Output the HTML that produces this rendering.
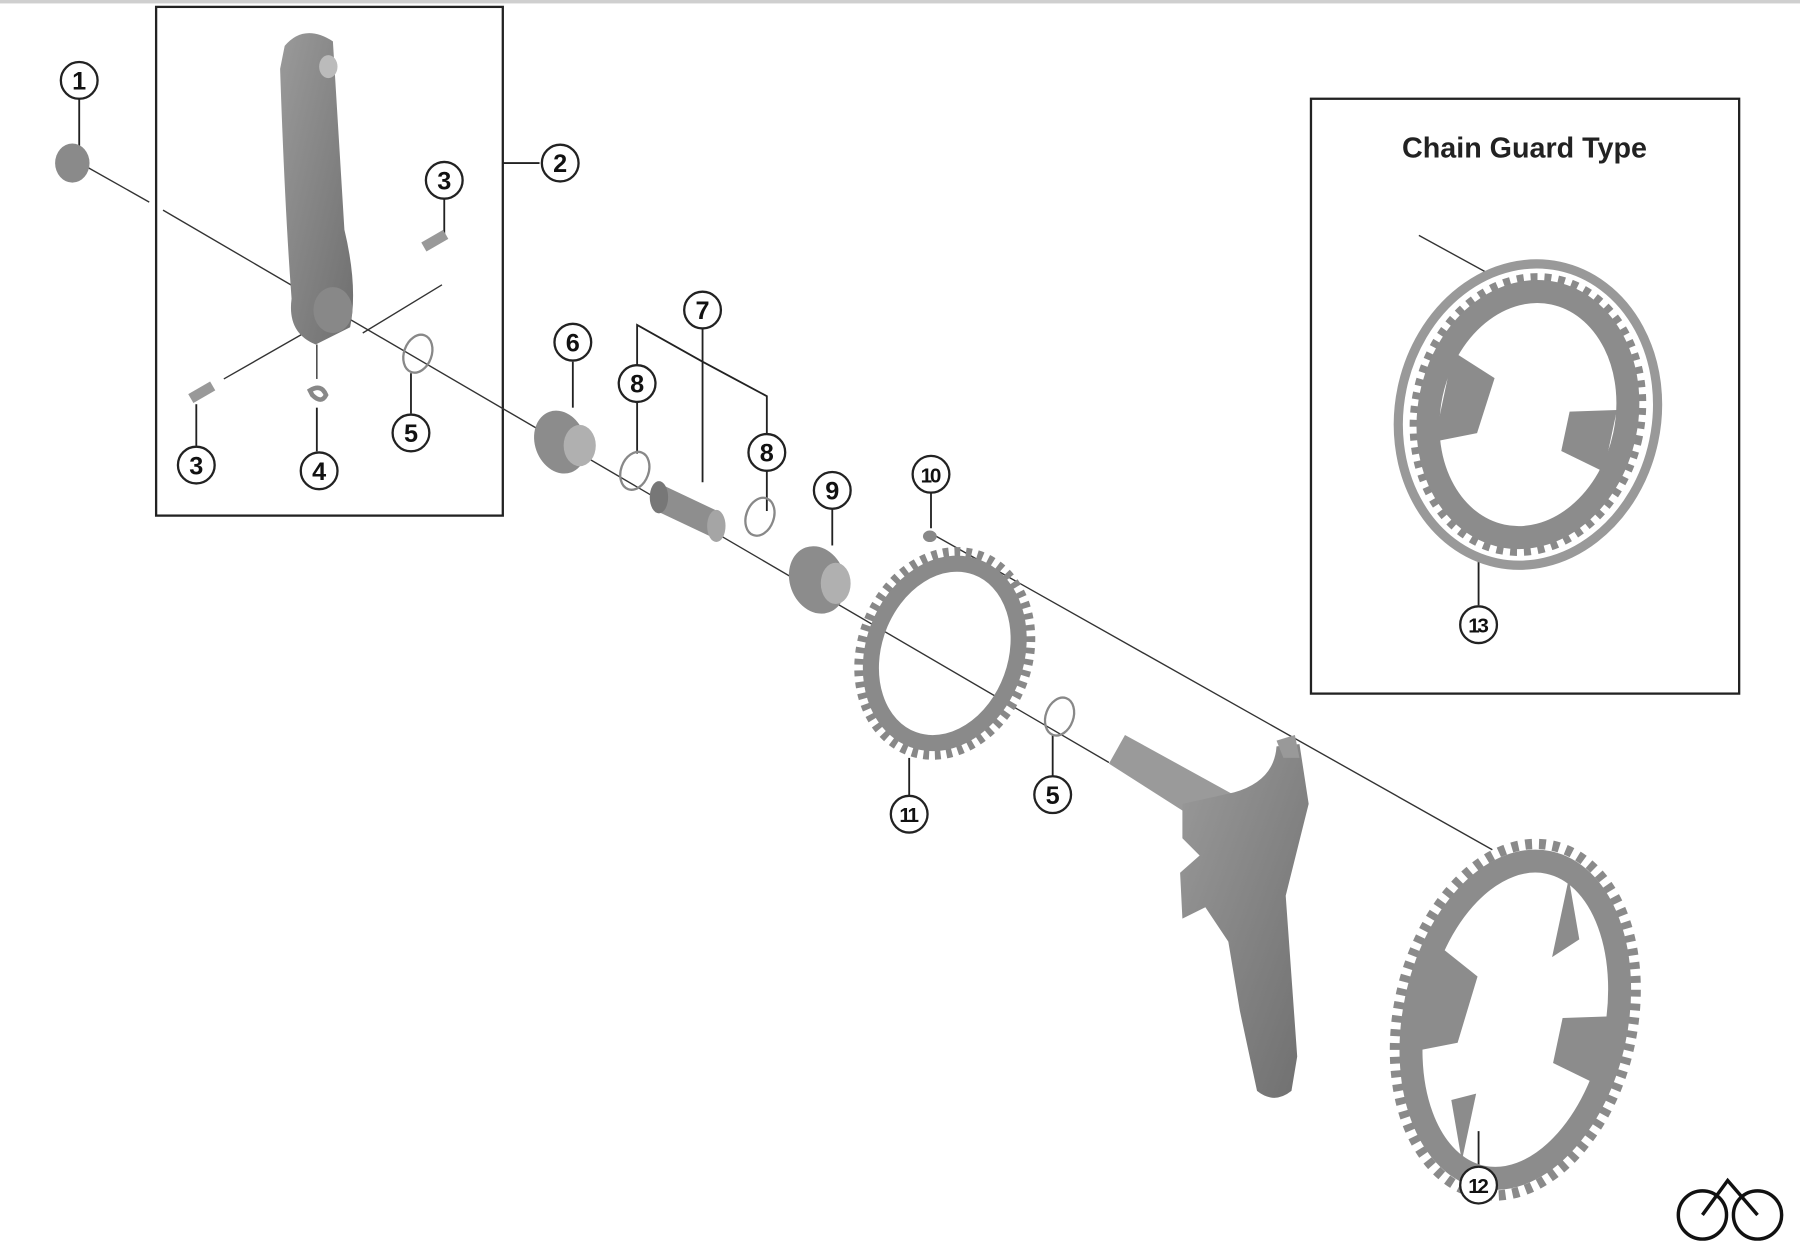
<!DOCTYPE html>
<html><head><meta charset="utf-8"><style>
html,body{margin:0;padding:0;background:#fff;}
svg{display:block;}
text{font-family:"Liberation Sans",sans-serif;}
</style></head><body>
<svg width="1800" height="1254" viewBox="0 0 1568 1092" preserveAspectRatio="none" xmlns="http://www.w3.org/2000/svg">
<defs>
<linearGradient id="g" x1="0" y1="0" x2="1" y2="1"><stop offset="0" stop-color="#9a9a9a"/><stop offset="1" stop-color="#6f6f6f"/></linearGradient>
</defs>
<rect x="0" y="0" width="1568" height="3" fill="#cfcfcf"/>
<rect x="136" y="6" width="302" height="443" fill="none" stroke="#222" stroke-width="2"/>
<rect x="1142" y="86" width="373" height="518" fill="none" stroke="#222" stroke-width="2"/>
<text x="1328" y="137" font-size="25" font-weight="bold" text-anchor="middle" fill="#222">Chain Guard Type</text>

<g stroke="#333" stroke-width="1.2" fill="none">
<line x1="75" y1="145" x2="130" y2="176"/>
<line x1="142" y1="183" x2="966" y2="664"/>
<line x1="812" y1="465" x2="1300" y2="740"/>
<line x1="1236" y1="205" x2="1300" y2="240"/>
<line x1="316" y1="290" x2="385" y2="248"/>
<line x1="195" y1="330" x2="265" y2="290"/>
<line x1="276" y1="300" x2="276" y2="330"/>
</g>

<g stroke="#222" stroke-width="1.6" fill="none">
<line x1="69" y1="86" x2="69" y2="128"/>
<line x1="438" y1="142" x2="470" y2="142"/>
<line x1="387" y1="173" x2="387" y2="205"/>
<line x1="171" y1="352" x2="171" y2="388"/>
<line x1="276" y1="355" x2="276" y2="393"/>
<line x1="358" y1="325" x2="358" y2="360"/>
<line x1="499" y1="315" x2="499" y2="355"/>
<line x1="612" y1="286" x2="612" y2="420"/>
<polyline points="555,318 555,283 612,315 668,345 668,378"/>
<line x1="555" y1="350" x2="555" y2="395"/>
<line x1="668" y1="410" x2="668" y2="445"/>
<line x1="725" y1="443" x2="725" y2="475"/>
<line x1="811" y1="429" x2="811" y2="460"/>
<line x1="792" y1="660" x2="792" y2="693"/>
<line x1="917" y1="640" x2="917" y2="676"/>
<line x1="1288" y1="488" x2="1288" y2="527"/>
<line x1="1288" y1="985" x2="1288" y2="1016"/>
</g>

<ellipse cx="63" cy="142" rx="15" ry="17" fill="#8a8a8a"/>
<path d="M248,40 Q265,20 290,36 L300,200 Q312,250 305,285 L275,300 Q250,290 254,260 Q248,180 244,60 Z" fill="url(#g)"/>
<ellipse cx="286" cy="58" rx="8" ry="10" fill="#bbb"/>
<ellipse cx="290" cy="270" rx="17" ry="20" fill="#888"/>
<rect x="368" y="205" width="22" height="9" transform="rotate(-30 379 210)" fill="#999"/>
<rect x="165" y="337" width="22" height="9" transform="rotate(-30 176 342)" fill="#999"/>
<path d="M270,340 q10,-6 14,4 q-4,8 -12,0 z" fill="none" stroke="#888" stroke-width="4"/>
<ellipse cx="364" cy="308" rx="12" ry="17" fill="none" stroke="#888" stroke-width="2" transform="rotate(20 364 308)"/>
<ellipse cx="553" cy="410" rx="12" ry="17" fill="none" stroke="#888" stroke-width="2" transform="rotate(20 553 410)"/>
<ellipse cx="662" cy="450" rx="12" ry="17" fill="none" stroke="#888" stroke-width="2" transform="rotate(20 662 450)"/>
<ellipse cx="923" cy="624" rx="12" ry="17" fill="none" stroke="#888" stroke-width="2" transform="rotate(20 923 624)"/>
<ellipse cx="488" cy="385" rx="22" ry="28" fill="#8c8c8c" transform="rotate(-20 488 385)"/>
<ellipse cx="505" cy="388" rx="14" ry="18" fill="#b0b0b0"/>
<path d="M572,420 L625,445 L625,470 L572,445 Z" fill="#8e8e8e"/>
<ellipse cx="574" cy="433" rx="8" ry="14" fill="#777"/>
<ellipse cx="624" cy="458" rx="8" ry="14" fill="#a5a5a5"/>
<ellipse cx="712" cy="505" rx="24" ry="30" fill="#8c8c8c" transform="rotate(-20 712 505)"/>
<ellipse cx="728" cy="508" rx="13" ry="18" fill="#b0b0b0"/>
<ellipse cx="810" cy="467" rx="6" ry="5" fill="#888"/>

<g transform="translate(823,569) rotate(20)">
<ellipse rx="72" ry="90" fill="none" stroke="#888" stroke-width="9" stroke-dasharray="5 5"/>
<ellipse rx="62" ry="80" fill="none" stroke="#8a8a8a" stroke-width="14"/>
</g>

<path d="M966,665 L980,640 L1080,695 L1060,725 Z" fill="#9a9a9a"/>
<path d="M1030,700 L1075,690 Q1110,680 1112,650 L1132,648 L1140,700 L1120,780 L1130,920 L1125,950 Q1110,962 1095,950 L1080,880 L1070,820 L1050,790 L1030,800 L1028,760 L1045,745 L1030,730 Z" fill="url(#g)"/>
<path d="M1112,645 L1128,640 L1132,660 L1118,660 Z" fill="#999"/>

<g transform="translate(1320,888) rotate(12)">
<ellipse rx="102" ry="155" fill="none" stroke="#8a8a8a" stroke-width="9" stroke-dasharray="6 6"/>
<ellipse rx="88" ry="140" fill="none" stroke="#8c8c8c" stroke-width="20"/>
<path d="M-80,-50 L-40,-30 L-45,30 L-80,45 Z" fill="#8c8c8c"/>
<path d="M20,-130 L40,-80 L20,-60 Z" fill="#8c8c8c"/>
<path d="M80,-20 L40,-10 L40,30 L80,40 Z" fill="#8c8c8c"/>
<path d="M-20,130 L-40,80 L-20,70 Z" fill="#8c8c8c"/>
</g>
<g transform="translate(1331,361) rotate(12)">
<ellipse rx="112" ry="132" fill="none" stroke="#999" stroke-width="8"/>
<ellipse rx="98" ry="120" fill="none" stroke="#8a8a8a" stroke-width="8" stroke-dasharray="6 6"/>
<ellipse rx="86" ry="108" fill="none" stroke="#8c8c8c" stroke-width="20"/>
<path d="M-75,-40 L-35,-25 L-40,25 L-75,40 Z" fill="#8c8c8c"/>
<path d="M75,-20 L35,-10 L35,25 L75,35 Z" fill="#8c8c8c"/>
</g>

<g fill="#fff" stroke="#222" stroke-width="2">
<circle cx="69" cy="70" r="16"/><circle cx="488" cy="142" r="16"/>
<circle cx="387" cy="157" r="16"/><circle cx="171" cy="405" r="16"/>
<circle cx="278" cy="410" r="16"/><circle cx="358" cy="377" r="16"/>
<circle cx="499" cy="298" r="16"/><circle cx="612" cy="270" r="16"/>
<circle cx="555" cy="334" r="16"/><circle cx="668" cy="394" r="16"/>
<circle cx="725" cy="427" r="16"/><circle cx="811" cy="413" r="16"/>
<circle cx="792" cy="709" r="16"/><circle cx="917" cy="692" r="16"/>
<circle cx="1288" cy="544" r="16"/><circle cx="1288" cy="1032" r="16"/>
</g>
<g font-size="22" font-weight="bold" text-anchor="middle" fill="#111">
<text x="69" y="78">1</text><text x="488" y="150">2</text>
<text x="387" y="165">3</text><text x="171" y="413">3</text>
<text x="278" y="418">4</text><text x="358" y="385">5</text>
<text x="499" y="306">6</text><text x="612" y="278">7</text>
<text x="555" y="342">8</text><text x="668" y="402">8</text>
<text x="725" y="435">9</text>
</g>
<g font-size="18" font-weight="bold" text-anchor="middle" fill="#111" letter-spacing="-2">
<text x="810" y="420">10</text><text x="791" y="716">11</text>
<text x="1287" y="551">13</text><text x="1287" y="1039">12</text>
</g>
<text x="917" y="700" font-size="22" font-weight="bold" text-anchor="middle" fill="#111">5</text>

<g fill="none" stroke="#111" stroke-width="3">
<circle cx="1483" cy="1058" r="21"/><circle cx="1531" cy="1058" r="21"/>
<polyline points="1483,1058 1505,1028 1531,1058"/>
</g>
</svg>
</body></html>
